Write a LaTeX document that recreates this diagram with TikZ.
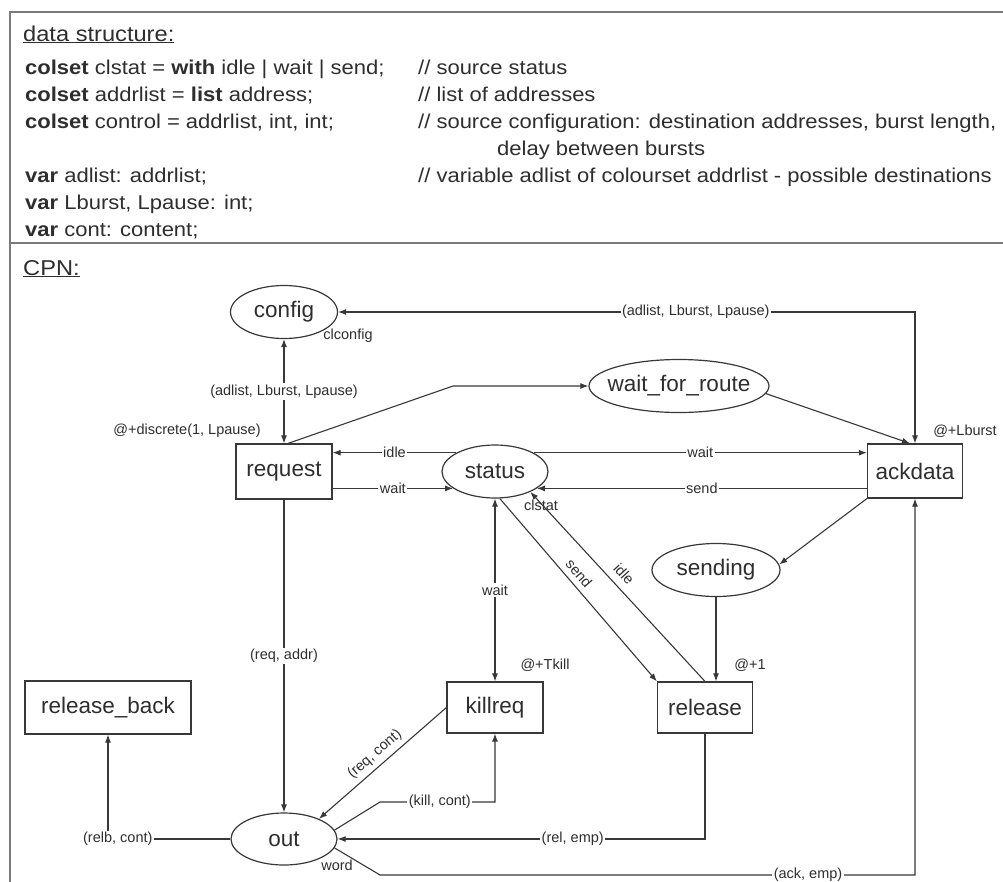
\documentclass[tikz,border=0pt]{standalone}
\usepackage{fontspec}
\setmainfont{Liberation Sans}
\newfontfamily\declfont[FakeStretch=1.1]{Liberation Sans}
\usetikzlibrary{positioning, shapes.geometric, arrows.meta, calc}
\definecolor{ink}{rgb}{0.18,0.18,0.18}
\definecolor{wire}{rgb}{0.22,0.22,0.22}
\definecolor{framegray}{rgb}{0.48,0.48,0.48}

\begin{document}
\begin{tikzpicture}[
  x=1pt, y=-1pt,
  place/.style={
    ellipse,
    draw=wire,
    line width=1.2pt,
    inner xsep=-8pt,
    inner ysep=0pt,
    text=ink,
    font=\fontsize{22.5}{26}\selectfont
  },
  trans/.style={
    rectangle,
    draw=wire,
    line width=1.2pt,
    inner sep=0pt,
    text=ink,
    font=\fontsize{22.5}{26}\selectfont
  },
  arc line/.style={
    -{Latex[length=8pt,width=6pt]},
    draw=wire,
    line width=1.1pt
  },
  arc back/.style={
    {Latex[length=8pt,width=6pt]}-,
    draw=wire,
    line width=1.1pt
  },
  arc both/.style={
    {Latex[length=8pt,width=6pt]}-{Latex[length=8pt,width=6pt]},
    draw=wire,
    line width=1.1pt
  },
  arc label/.style={fill=white, inner sep=1.5pt, text=ink, font=\fontsize{14.5}{16}\selectfont},
  side label/.style={inner sep=1.5pt, text=ink, font=\fontsize{14.5}{16}\selectfont},
  decl/.style={anchor=base west, inner sep=0pt, text=ink, font=\declfont\fontsize{20}{24}\selectfont},
  heading/.style={anchor=base west, inner sep=0pt, text=ink, font=\declfont\fontsize{21.5}{26}\selectfont}
]

\useasboundingbox (0,0) rectangle (1003,881);
\clip (0,0) rectangle (1003,881);
\fill[white] (0,0) rectangle (1003,881);

% frame of the two panels
\draw[framegray, line width=2pt] (10,12) rectangle (1030,900);
\draw[framegray, line width=2pt] (10,243) -- (1030,243);

% data structure panel
\node[heading] (dshead) at (23,41) {\underline{data structure:}};
\node[decl] (dl1) at (25,74) {\textbf{colset} clstat = \textbf{with} idle | wait | send;};
\node[decl] (dl2) at (25,101) {\textbf{colset} addrlist = \textbf{list} address;};
\node[decl] (dl3) at (25,128) {\textbf{colset} control = addrlist, int, int;};
\node[decl] (dl5) at (25,182) {\textbf{var} adlist: addrlist;};
\node[decl] (dl6) at (25,209) {\textbf{var} Lburst, Lpause: int;};
\node[decl] (dl7) at (25,236) {\textbf{var} cont: content;};
\node[decl] (cm1) at (418,74) {// source status};
\node[decl] (cm2) at (418,101) {// list of addresses};
\node[decl] (cm3) at (418,128) {// source configuration: destination addresses, burst length,};
\node[decl] (cm4) at (497,155) {delay between bursts};
\node[decl] (cm5) at (418,182) {// variable adlist of colourset addrlist - possible destinations};

% CPN panel
\node[heading] (cpnhead) at (23,275) {\underline{CPN:}};

\node[place, minimum width=107, minimum height=53] (config) at (284,312) {config};
\node[place, minimum width=180, minimum height=53] (waitroute) at (679,386) {wait\_for\_route};
\node[trans, minimum width=96, minimum height=55] (request) at (284,471.5) {request};
\node[place, minimum width=106, minimum height=53] (status) at (495,471.5) {status};
\node[trans, minimum width=95, minimum height=54] (ackdata) at (915,471) {ackdata};
\node[place, minimum width=128, minimum height=53] (sending) at (716,570) {sending};
\node[trans, minimum width=96, minimum height=51] (killreq) at (495,707.5) {killreq};
\node[trans, minimum width=95, minimum height=51] (release) at (705,707.5) {release};
\node[trans, minimum width=166, minimum height=53] (relback) at (108,707.5) {release\_back};
\node[place, minimum width=106, minimum height=52] (out) at (284,839) {out};

\node[side label] (clconfig) at (348,336) {clconfig};
\node[side label] (reqdelay) at (187,431) {@+discrete(1, Lpause)};
\node[side label] (ackdelay) at (965,431) {@+Lburst};
\node[side label] (clstat) at (541,505) {clstat};
\node[side label] (killdelay) at (545,665) {@+Tkill};
\node[side label] (reldelay) at (750,665) {@+1};
\node[side label] (word) at (337,865) {word};

\coordinate (routebend) at (453,386);
\coordinate (killbend) at (380,802);
\coordinate (ackbend) at (380,875);

\draw[arc both] (config.south) -- (request.north) node[arc label, midway] {(adlist, Lburst, Lpause)};
\draw[arc both] (config.east) -| (ackdata.north) node[arc label, pos=0.31] {(adlist, Lburst, Lpause)};
\draw[arc line] ([xshift=4pt]request.north) -- (routebend) -- (waitroute.west);
\draw[arc line] (waitroute.-5) -- ([xshift=-5pt]ackdata.north);

\draw[arc line] (status.154) -- (status.154 -| request.east) node[arc label, midway] {idle};
\draw[arc line] (status.202 -| request.east) -- (status.202) node[arc label, midway] {wait};
\draw[arc line] (status.26) -- (status.26 -| ackdata.west) node[arc label, midway] {wait};
\draw[arc line] (status.338 -| ackdata.west) -- (status.338) node[arc label, midway] {send};

\draw[arc both] (status.south) -- (killreq.north) node[arc label, midway] {wait};
\draw[arc line] (status.-80) -- (release.north west) node[side label, sloped, above=4pt, pos=0.45] {send};
\draw[arc back] (status.-30) -- (release.north) node[side label, sloped, above=6pt, pos=0.48] {idle};
\draw[arc line] (ackdata.south west) -- (sending.5);
\draw[arc line] (sending.south) -- (sending.south |- release.north);

\draw[arc line] (request.south) -- (out.north) node[arc label, midway] {(req, addr)};
\draw[arc line] (out.west) -| (relback.south) node[arc label, pos=0.46] {(relb, cont)};
\draw[arc back] (out.30) -- (killreq.west) node[side label, sloped, above=3pt, midway] {(req, cont)};
\draw[arc line] (out.10) -- (killbend) -| (killreq.south) node[arc label, pos=0.26] {(kill, cont)};
\draw[arc line] (release.south) |- (out.east) node[arc label, pos=0.68] {(rel, emp)};
\draw[arc line] (out.-10) -- (ackbend) -| (ackdata.south) node[arc label, pos=0.4] {(ack, emp)};

\end{tikzpicture}
\end{document}
